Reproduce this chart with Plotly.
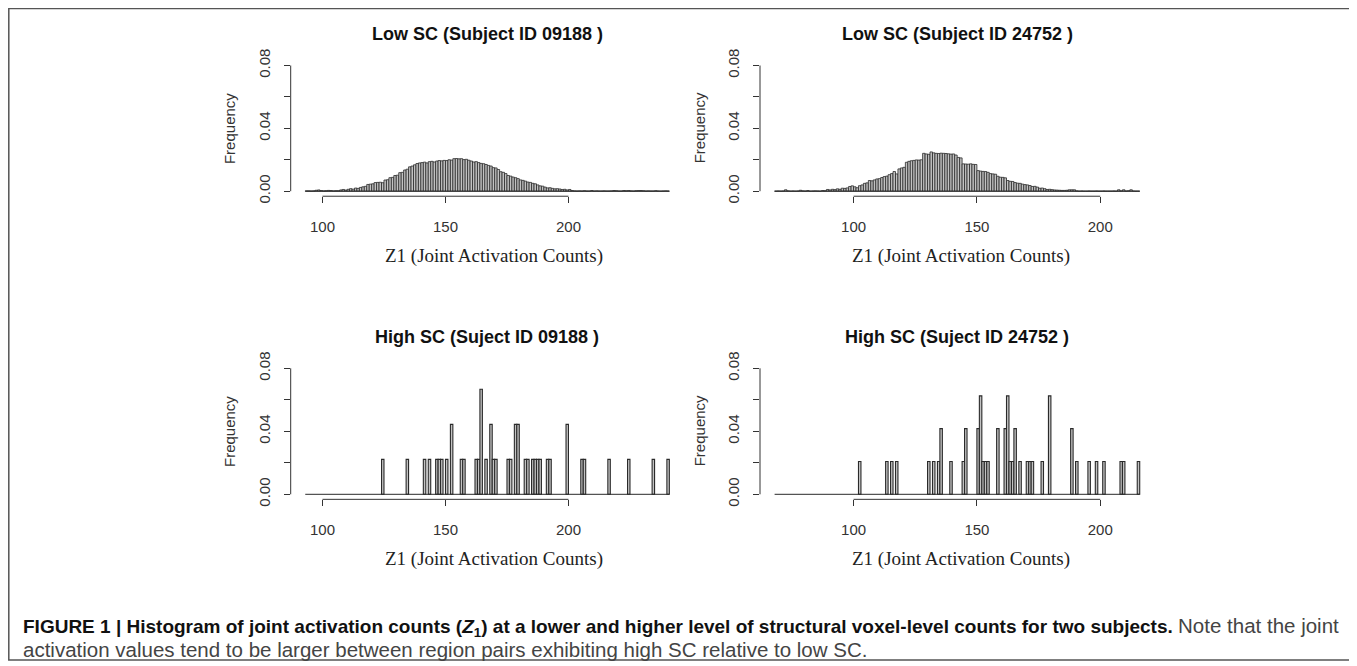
import plotly.graph_objects as go

W, H = 1357, 666

# ---------------- data ----------------
# Low SC, subject 09188: bins of width 1, lower edges 93..240
low_09188_bins = list(range(93, 241))
low_09188_freq = [
    0.0002, 0.0002, 0.0001, 0.0002, 0.0006, 0.0008, 0.0004, 0.0002, 0.0003, 0.0005,
    0.0004, 0.0002, 0.0003, 0.0003, 0.0008, 0.0011, 0.0007, 0.0012, 0.0016, 0.0013,
    0.0020, 0.0018, 0.0024, 0.0028, 0.0031, 0.0043, 0.0045, 0.0047, 0.0055, 0.0056,
    0.0057, 0.0054, 0.0071, 0.0073, 0.0086, 0.0088, 0.0100, 0.0102, 0.0118, 0.0120,
    0.0135, 0.0140, 0.0155, 0.0160, 0.0168, 0.0176, 0.0180, 0.0182, 0.0185, 0.0180,
    0.0188, 0.0190, 0.0186, 0.0192, 0.0195, 0.0193, 0.0196, 0.0195, 0.0200, 0.0198,
    0.0207, 0.0208, 0.0206, 0.0207, 0.0201, 0.0203, 0.0197, 0.0192, 0.0186, 0.0188,
    0.0182, 0.0177, 0.0175, 0.0170, 0.0164, 0.0160, 0.0150, 0.0148, 0.0138, 0.0124,
    0.0120, 0.0112, 0.0100, 0.0096, 0.0090, 0.0086, 0.0080, 0.0072, 0.0069, 0.0064,
    0.0058, 0.0056, 0.0050, 0.0047, 0.0040, 0.0034, 0.0032, 0.0026, 0.0021, 0.0022,
    0.0018, 0.0015, 0.0016, 0.0014, 0.0011, 0.0012, 0.0008, 0.0011, 0.0004, 0.0002,
    0.0001, 0.0002, 0.0001, 0.0003, 0.0001, 0.0001, 0.0004, 0.0001, 0.0002, 0.0001,
    0.0001, 0.0002, 0.0001, 0.0001, 0.0002, 0.0004, 0.0003, 0.0001, 0.0001, 0.0004,
    0.0003, 0.0004, 0.0002, 0.0001, 0.0003, 0.0004, 0.0004, 0.0003, 0.0001, 0.0002,
    0.0001, 0.0001, 0.0003, 0.0001, 0.0000, 0.0001, 0.0002, 0.0001,
]

# Low SC, subject 24752: bins of width 1, lower edges 68..215
low_24752_bins = list(range(68, 216))
low_24752_freq = [
    0.0000, 0.0001, 0.0000, 0.0001, 0.0009, 0.0002, 0.0000, 0.0001, 0.0000, 0.0001,
    0.0006, 0.0002, 0.0001, 0.0004, 0.0000, 0.0001, 0.0002, 0.0001, 0.0000, 0.0004,
    0.0003, 0.0011, 0.0008, 0.0012, 0.0010, 0.0015, 0.0012, 0.0019, 0.0018, 0.0021,
    0.0030, 0.0034, 0.0028, 0.0022, 0.0035, 0.0040, 0.0050, 0.0053, 0.0068, 0.0066,
    0.0072, 0.0078, 0.0080, 0.0087, 0.0093, 0.0096, 0.0105, 0.0112, 0.0125, 0.0110,
    0.0142, 0.0148, 0.0152, 0.0184, 0.0190, 0.0194, 0.0196, 0.0199, 0.0198, 0.0200,
    0.0241, 0.0237, 0.0235, 0.0250, 0.0244, 0.0241, 0.0240, 0.0242, 0.0241, 0.0240,
    0.0238, 0.0236, 0.0237, 0.0230, 0.0215, 0.0212, 0.0174, 0.0173, 0.0172, 0.0174,
    0.0171, 0.0170, 0.0131, 0.0128, 0.0126, 0.0125, 0.0120, 0.0112, 0.0110, 0.0108,
    0.0095, 0.0089, 0.0088, 0.0085, 0.0068, 0.0063, 0.0062, 0.0055, 0.0051, 0.0050,
    0.0045, 0.0042, 0.0040, 0.0036, 0.0030, 0.0031, 0.0026, 0.0019, 0.0020, 0.0016,
    0.0011, 0.0012, 0.0010, 0.0008, 0.0007, 0.0006, 0.0005, 0.0005, 0.0006, 0.0009,
    0.0009, 0.0009, 0.0002, 0.0000, 0.0001, 0.0000, 0.0000, 0.0001, 0.0000, 0.0000,
    0.0001, 0.0000, 0.0000, 0.0001, 0.0000, 0.0000, 0.0000, 0.0001, 0.0000, 0.0009,
    0.0002, 0.0009, 0.0001, 0.0003, 0.0009, 0.0001, 0.0000, 0.0000,
]

# High SC, subject 09188: non-empty bins (lower edges) and their frequencies
high_09188_bins = [124, 134, 141, 143, 146, 147, 148, 150, 152, 156, 157, 162, 163, 164,
                   166, 168, 169, 170, 175, 176, 178, 179, 182, 183, 185, 186, 187, 188,
                   191, 192, 199, 205, 206, 216, 224, 234, 240]
high_09188_freq = [0.0222, 0.0222, 0.0222, 0.0222, 0.0222, 0.0222, 0.0222, 0.0222, 0.0444,
                   0.0222, 0.0222, 0.0222, 0.0222, 0.0667, 0.0222, 0.0444, 0.0222, 0.0222,
                   0.0222, 0.0222, 0.0444, 0.0444, 0.0222, 0.0222, 0.0222, 0.0222, 0.0222,
                   0.0222, 0.0222, 0.0222, 0.0444, 0.0222, 0.0222, 0.0222, 0.0222, 0.0222,
                   0.0222]

# High SC, subject 24752
high_24752_bins = [102, 113, 115, 117, 130, 132, 134, 135, 139, 144, 145, 150, 151, 152,
                   153, 154, 158, 161, 162, 163, 164, 165, 167, 170, 171, 172, 176, 179,
                   188, 190, 195, 198, 201, 208, 209, 215]
high_24752_freq = [0.0208, 0.0208, 0.0208, 0.0208, 0.0208, 0.0208, 0.0208, 0.0417, 0.0208,
                   0.0208, 0.0417, 0.0417, 0.0625, 0.0208, 0.0208, 0.0208, 0.0417, 0.0417,
                   0.0625, 0.0208, 0.0208, 0.0417, 0.0208, 0.0208, 0.0208, 0.0208, 0.0208,
                   0.0625, 0.0417, 0.0208, 0.0208, 0.0208, 0.0208, 0.0208, 0.0208, 0.0208]

panel_titles = ["Low SC (Subject ID 09188 )", "Low SC (Subject ID 24752 )",
                "High SC (Suject ID 09188 )", "High SC (Suject ID 24752 )"]
x_title = "Z1 (Joint Activation Counts)"
y_title = "Frequency"
x_tickvals = [100, 150, 200]
y_tickvals = [0, 0.04, 0.08]
y_ticktext = ["0.00", "0.04", "0.08"]
y_minor_step = 0.02
caption_bold = ("FIGURE 1 | Histogram of joint activation counts (<i>Z</i><sub>1</sub>) at a lower "
                "and higher level of structural voxel-level counts for two subjects.")
caption_rest1 = "Note that the joint"
caption_line2 = "activation values tend to be larger between region pairs exhibiting high SC relative to low SC."

# ---------------- layout geometry (pixels of the reference image) ----------------
OFF = 8  # the page body offsets the figure by 8 px


def px_x(p):
    return (p - OFF) / W


def px_y(p):
    return 1 - (p - OFF) / H


# (bins, freqs, first edge, last edge, left px, px per unit, zero px, 0.08 px, xlab centre, outline)
panels = [
    (low_09188_bins, low_09188_freq, 93, 241, 290.7, 2.46, 191.2, 65.5, 494, 0.8),
    (low_24752_bins, low_24752_freq, 68, 216, 760.0, 2.467, 191.2, 65.5, 961, 0.8),
    (high_09188_bins, high_09188_freq, 93, 241, 290.7, 2.46, 494.3, 368.3, 494, 1.1),
    (high_24752_bins, high_24752_freq, 68, 216, 760.0, 2.467, 494.3, 368.3, 961, 1.1),
]

BAR_FILL = "#c2c2c2"
INK = "#2a2a2a"
TXT = "#333333"
SANS = "Liberation Sans, Arial, sans-serif"
SERIF = "Liberation Serif, Times New Roman, serif"

fig = go.Figure()
layout = dict(
    width=W, height=H, margin=dict(l=0, r=0, t=0, b=0, autoexpand=False),
    paper_bgcolor="white", plot_bgcolor="white", showlegend=False,
    shapes=[], annotations=[],
)

for i, (bins, freq, lo, hi, L, s, y0, y8, xlab_c, lw) in enumerate(panels, start=1):
    xa = "x" if i == 1 else f"x{i}"
    ya = "y" if i == 1 else f"y{i}"
    xkey = "xaxis" if i == 1 else f"xaxis{i}"
    ykey = "yaxis" if i == 1 else f"yaxis{i}"
    pad = 0.04 * (hi - lo)
    xr = [lo - pad, hi + pad]
    R = L + s * (xr[1] - xr[0])
    k = (y0 - y8) / 0.08
    yr = [-0.0032, 0.0832]
    top = y0 - yr[1] * k
    bot = y0 - yr[0] * k

    fig.add_trace(go.Scatter(x=[lo, hi], y=[0, 0], mode="lines",
                             line=dict(color=INK, width=1), xaxis=xa, yaxis=ya,
                             hoverinfo="skip"))
    fig.add_trace(go.Bar(x=[b + 0.5 for b in bins], y=freq, width=1,
                         marker=dict(color=BAR_FILL, line=dict(color=INK, width=lw)),
                         xaxis=xa, yaxis=ya))

    layout[xkey] = dict(domain=[px_x(L), px_x(R)], range=xr, anchor=ya,
                        automargin=False,
                        showline=False, showgrid=False, zeroline=False,
                        ticks="outside", tickvals=x_tickvals, ticklen=6, tickwidth=1,
                        tickcolor=TXT, ticklabelstandoff=11,
                        tickfont=dict(family=SANS, size=15, color=TXT), fixedrange=True)
    layout[ykey] = dict(domain=[px_y(bot), px_y(top)], range=yr, anchor=xa,
                        automargin=False,
                        showline=False, showgrid=False, zeroline=False,
                        ticks="outside", tickvals=y_tickvals, ticktext=y_ticktext,
                        ticklen=6, tickwidth=1, tickcolor=TXT, tickangle=-90,
                        ticklabelstandoff=8,
                        minor=dict(ticks="outside", tick0=0, dtick=y_minor_step,
                                   ticklen=6, tickwidth=1, tickcolor=TXT, showgrid=False),
                        tickfont=dict(family=SANS, size=15, color=TXT), fixedrange=True)

    # R-style detached axis lines spanning only the tick range
    layout["shapes"].append(dict(type="line", xref=xa, yref=f"{ya} domain",
                                 x0=x_tickvals[0], x1=x_tickvals[-1], y0=0, y1=0,
                                 line=dict(color=TXT, width=1)))
    layout["shapes"].append(dict(type="line", xref=f"{xa} domain", yref=ya,
                                 x0=0, x1=0, y0=y_tickvals[0], y1=y_tickvals[-1],
                                 line=dict(color=TXT, width=1)))

    # titles
    layout["annotations"].append(dict(
        text=f"<b>{panel_titles[i-1]}</b>", xref="paper", yref="paper",
        x=px_x((L + R) / 2), y=px_y(y8 - 31.5), xanchor="center", yanchor="middle",
        showarrow=False, font=dict(family=SANS, size=18, color="#111111")))
    layout["annotations"].append(dict(
        text=x_title, xref="paper", yref="paper",
        x=px_x(xlab_c), y=px_y(bot + 60), xanchor="center", yanchor="middle",
        showarrow=False, font=dict(family=SERIF, size=19, color="#222222")))
    layout["annotations"].append(dict(
        text=y_title, xref="paper", yref="paper", textangle=-90,
        x=px_x(L - 61), y=px_y((y0 + y8) / 2), xanchor="center", yanchor="middle",
        showarrow=False, font=dict(family=SANS, size=15, color=TXT)))

# caption and outer frame
CAP_FONT = "Liberation Sans Narrow, Arial Narrow, Liberation Sans, sans-serif"
layout["annotations"].append(dict(
    text=(f"<span style='color:#111111'><b>{caption_bold}</b></span> "
          f"<span style='font-size:20.5px'>{caption_rest1}</span>"),
    xref="paper", yref="paper", x=px_x(21), y=px_y(627),
    xanchor="left", yanchor="middle", align="left", showarrow=False,
    font=dict(family=CAP_FONT, size=19, color="#444444")))
layout["annotations"].append(dict(
    text=caption_line2, xref="paper", yref="paper", x=px_x(21), y=px_y(649),
    xanchor="left", yanchor="middle", align="left", showarrow=False,
    font=dict(family=CAP_FONT, size=20.5, color="#444444")))
layout["shapes"].append(dict(type="rect", xref="paper", yref="paper",
                             x0=px_x(8.8), x1=px_x(1350), y0=px_y(660), y1=px_y(8.6),
                             line=dict(color="#555555", width=1.5)))

fig.update_layout(**layout)
fig.write_html("out.html")
